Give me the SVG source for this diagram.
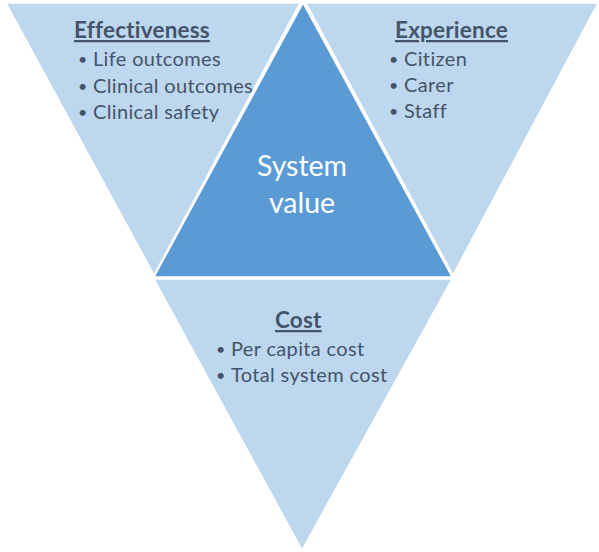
<svg xmlns="http://www.w3.org/2000/svg" width="599" height="552" viewBox="0 0 599 552">
<style>
.tri{fill:#BDD7EE;stroke:#FFFFFF;stroke-width:1.5}
.core{fill:#5B9BD5;stroke:#FFFFFF;stroke-width:1.5}
.t{font-family:Lato,"Liberation Sans",sans-serif;font-size:20px;letter-spacing:0.35px;fill:#44546A}
.b{font-family:Lato,"Liberation Sans",sans-serif;font-size:16px;fill:#44546A}
.h{font-family:Lato,"Liberation Sans",sans-serif;font-size:22.5px;font-weight:bold;letter-spacing:0.2px;fill:#44546A;text-decoration:underline}
.c{font-family:Lato,"Liberation Sans",sans-serif;font-size:28.5px;fill:#FFFFFF;text-anchor:middle}
</style>
<rect width="599" height="552" fill="#FFFFFF"/>
<g id="effectiveness">
<polygon class="tri" points="6,3 300,3 154,275"/>
<text class="h" x="74" y="38">Effectiveness</text>
<text class="b" x="78" y="65">•</text><text class="t" x="93" y="66">Life outcomes</text>
<text class="b" x="78" y="92">•</text><text class="t" x="93" y="93">Clinical outcomes</text>
<text class="b" x="78" y="118">•</text><text class="t" x="93" y="119">Clinical safety</text>
</g>
<g id="experience">
<polygon class="tri" points="306,3 598,3 453,275"/>
<text class="h" x="395" y="38">Experience</text>
<text class="b" x="389" y="65">•</text><text class="t" x="404" y="66">Citizen</text>
<text class="b" x="389" y="91">•</text><text class="t" x="404" y="92">Carer</text>
<text class="b" x="389" y="117">•</text><text class="t" x="404" y="118">Staff</text>
</g>
<g id="cost">
<polygon class="tri" points="154,279 452,279 302,550"/>
<text class="h" x="275" y="328">Cost</text>
<text class="b" x="216" y="355">•</text><text class="t" x="231" y="356">Per capita cost</text>
<text class="b" x="216" y="381">•</text><text class="t" x="231" y="382">Total system cost</text>
</g>
<g id="system-value">
<polygon class="core" points="303,3 452,277 154,277"/>
<text class="c" x="302" y="176">System</text>
<text class="c" x="302" y="213">value</text>
</g>
<g id="connectors"/>
</svg>
